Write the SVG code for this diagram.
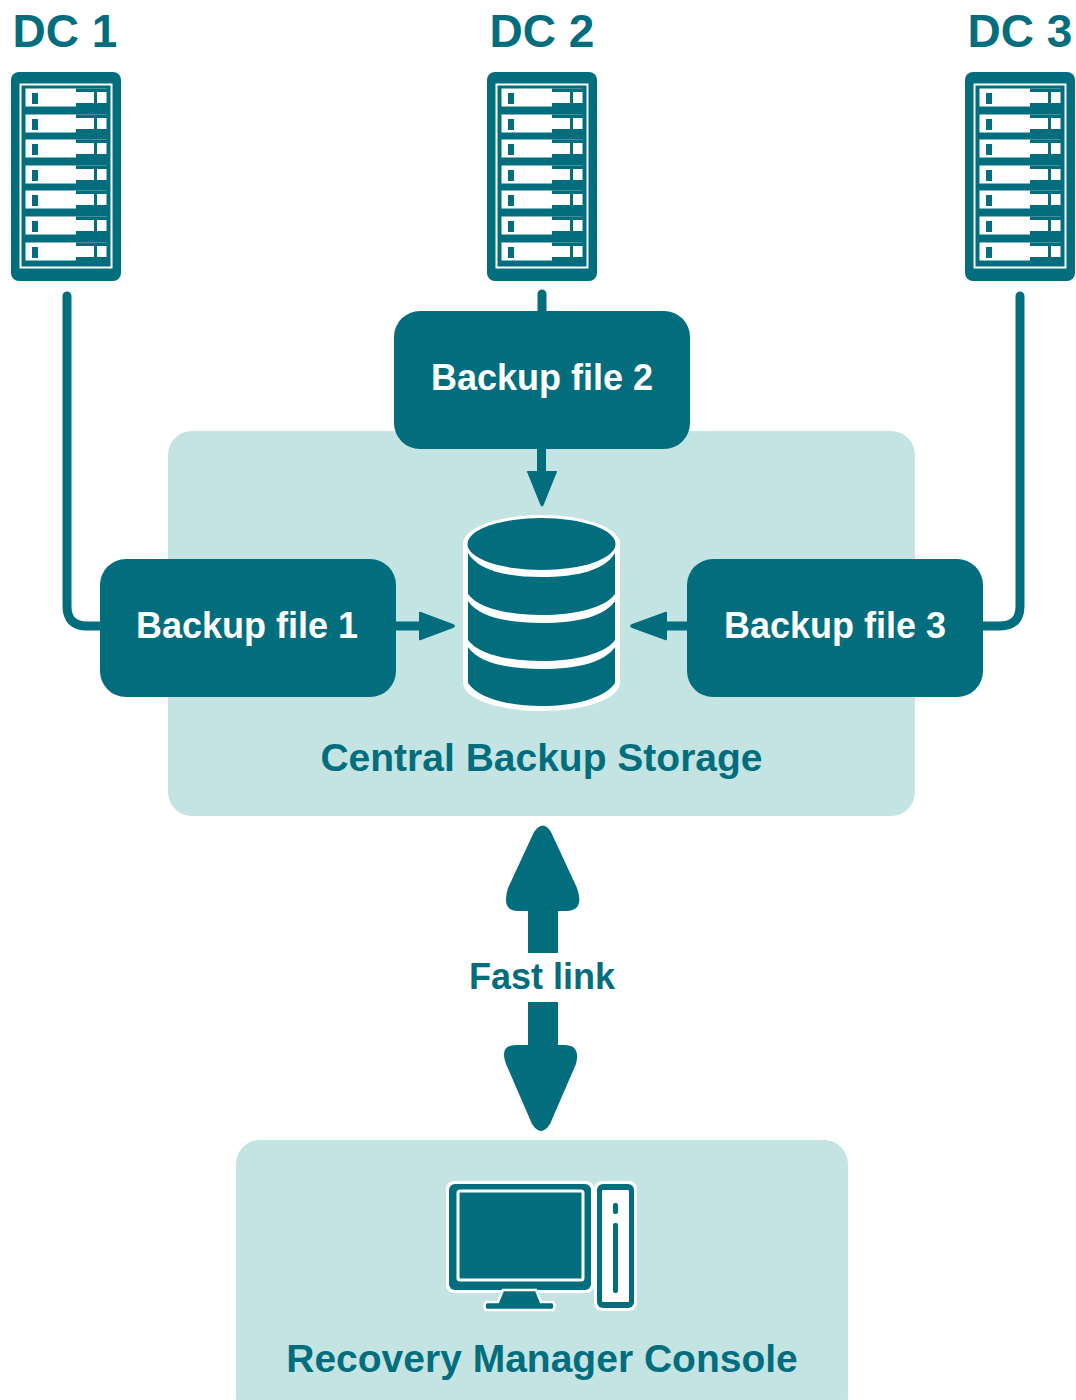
<svg xmlns="http://www.w3.org/2000/svg" xmlns:xlink="http://www.w3.org/1999/xlink" width="1076" height="1400" viewBox="0 0 1076 1400">
<style>
text{font-family:"Liberation Sans",Arial,sans-serif;font-weight:700;text-anchor:middle}
.t{fill:#026e7d}
.w{fill:#fff}
.dc{font-size:46px}
.b{font-size:36px}
.c{font-size:39px}
.panel{fill:#c3e4e3}
.box{fill:#026e7d}
.line{fill:none;stroke:#026e7d;stroke-width:9;stroke-linecap:round}
.stem{fill:#026e7d}
</style>
<defs>
<g id="slot">
<rect x="10" y="0" width="86" height="23" fill="#026e7d"/>
<rect x="12.500" y="2.500" width="81" height="18" fill="#fff"/>
<rect x="19" y="7" width="6" height="11" fill="#026e7d"/>
<path d="M63 2.500H94V6H63ZM63 17H94V21H63Z" fill="#026e7d" transform="translate(0 0)"/>
<path d="M63 2L77 6H78V7H93V18H78V17H75L63 21Z" fill="#fff" opacity="0"/>
<rect x="81" y="6" width="3" height="12" fill="#026e7d"/>
</g>
<g id="rack">
<rect x="0" y="0" width="110" height="209" rx="8" fill="#026e7d"/>
<rect x="9.500" y="12.500" width="91" height="183" fill="none" stroke="#fff" stroke-width="2"/>
<use href="#slot" x="2" y="14"/>
<use href="#slot" x="2" y="40"/>
<use href="#slot" x="2" y="65"/>
<use href="#slot" x="2" y="91"/>
<use href="#slot" x="2" y="116"/>
<use href="#slot" x="2" y="142"/>
<use href="#slot" x="2" y="168"/>
</g>
</defs>
<g id="storage"><rect class="panel" x="168" y="431" width="747" height="385" rx="24"/><text class="t c" x="541.500" y="771">Central Backup Storage</text></g>
<g id="connectors">
<path class="line" d="M67 296V606Q67 626 87 626H110"/>
<path class="line" d="M1020 296V606Q1020 626 1000 626H975"/>
<path class="line" d="M542 294V320"/>
<rect class="stem" x="537" y="445" width="9" height="30"/><path class="stem" d="M527.500 473Q526 471 528 471H556Q558 471 556.500 473L544 504Q542 509 540 504Z"/>
<rect class="stem" x="392" y="621.500" width="32" height="9"/><path class="stem" d="M421 612Q419 611 419 613V639Q419 641 421 640L453 628Q457 626 453 624Z"/>
<rect class="stem" x="660" y="621.500" width="30" height="9"/><path class="stem" d="M665 612Q667 611 667 613V639Q667 641 665 640L632 628Q628 626 632 624Z"/>
<g id="fast-link">
<rect class="stem" x="528" y="905" width="30" height="48"/>
<path class="stem" d="M534 832Q543 819 551 832L577 888Q585 911 566 911H518Q501 911 508 888Z"/>
<rect class="stem" x="528" y="1002" width="30" height="48"/>
<path class="stem" d="M516 1045H564Q581 1045 576 1064L550 1124Q541 1138 532 1124L506 1064Q499 1045 516 1045Z"/>
</g>
</g>
<g id="dc1"><text class="t dc" x="65" y="47">DC 1</text><use href="#rack" x="11" y="72"/></g>
<g id="dc2"><text class="t dc" x="542" y="47">DC 2</text><use href="#rack" x="487" y="72"/></g>
<g id="dc3"><text class="t dc" x="1020" y="47">DC 3</text><use href="#rack" x="965" y="72"/></g>
<g id="backup2"><rect class="box" x="394" y="311" width="296" height="138" rx="26"/><text class="w b" x="542" y="390">Backup file 2</text></g>
<g id="backup1"><rect class="box" x="100" y="559" width="296" height="138" rx="26"/><text class="w b" x="247" y="638">Backup file 1</text></g>
<g id="backup3"><rect class="box" x="687" y="559" width="296" height="138" rx="26"/><text class="w b" x="835" y="638">Backup file 3</text></g>
<g id="database">
<path d="M463 544C463 528 498 515 541.500 515S620 528 620 544V682C620 699 585 711 541.500 711S463 699 463 682Z" fill="#fff"/>
<ellipse cx="541.500" cy="544" rx="74" ry="26" fill="#026e7d"/>
<path d="M468 553C478 570 505 577 541.500 577S605 570 615 553V594C605 608 575 615 541.500 615S478 608 468 594Z" fill="#026e7d"/>
<path d="M468 601C478 616 505 623 541.500 623S605 616 615 601V640C605 654 575 661 541.500 661S478 654 468 640Z" fill="#026e7d"/>
<path d="M468 647C478 662 505 669 541.500 669S605 662 615 647V683C605 698 575 706 541.500 706S478 698 468 683Z" fill="#026e7d"/>
</g>
<g id="fast-link-label"><text class="t" x="542" y="989" font-size="36">Fast link</text></g>
<g id="console"><rect class="panel" x="236" y="1140" width="612" height="280" rx="24"/>
<rect x="446" y="1181" width="148" height="112" rx="8" fill="#fff"/>
<rect x="449" y="1184" width="142" height="106" rx="6" fill="#026e7d"/>
<rect x="458" y="1191" width="125" height="89" rx="2" fill="#026e7d" stroke="#fff" stroke-width="3"/>
<path d="M503 1290H536L541 1302H553Q556 1306 553 1310H486Q483 1306 486 1302H498Z" fill="#026e7d" stroke="#fff" stroke-width="2.500"/>
<rect x="594" y="1181" width="43" height="130" rx="8" fill="#fff"/>
<rect x="597" y="1184" width="37" height="124" rx="6" fill="#026e7d"/>
<rect x="602" y="1190" width="27" height="112" rx="1" fill="#fff"/>
<rect x="613" y="1203" width="5" height="11" rx="2" fill="#026e7d"/>
<rect x="613" y="1223" width="5" height="70" rx="2" fill="#026e7d"/>
<text class="t c" x="542" y="1372">Recovery Manager Console</text></g>
</svg>
